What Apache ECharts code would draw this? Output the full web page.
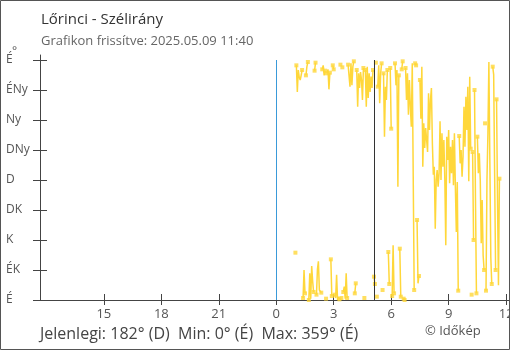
<!DOCTYPE html>
<html><head><meta charset="utf-8">
<script src="https://cdn.jsdelivr.net/npm/echarts@6/dist/echarts.min.js"></script>
<style>html,body{margin:0;padding:0;background:#fff}#c{width:510px;height:350px}</style>
</head><body><div id="c"></div>
<script>
const titleText = 'Lőrinci - Szélirány';
const subtitleText = 'Grafikon frissítve: 2025.05.09 11:40';
const footerText = 'Jelenlegi: 182° (D)  Min: 0° (É)  Max: 359° (É)';
const creditText = '© Időkép';
const unitText = '°';
const dirLabels = ['É','ÉK','K','DK','D','DNy','Ny','ÉNy','É'];
const dirTicks = [0,45,90,135,180,225,270,315,360];
const hourTicks = [-9,-6,-3,0,3,6,9,12];      // hours relative to 2025.05.09 00:00
const axisStartHour = -12 - 20/60;            // 11:40 previous day
const axisEndHour = 12.15;
const midnightHour = 0;
const sunriseHour = 5 + 7/60;
const sampleStartHour = 1;                    // first sample 01:00
const sampleStepMin = 3;

// wind direction (degrees), one array per hour
const dir01 = [71,352,312,345,334,330,337,345,3,45,10,337,350,357,0,40,2,51,28,12];
const dir02 = [344,356,8,46,58,15,17,11,346,352,337,344,2,340,346,316,341,61,6,352];
const dir03 = [346,8,3,38,0,5,1,353,3,349,12,20,2,40,3,353,356,320,355,322];
const dir04 = [350,358,10,25,345,290,340,318,342,330,300,348,3,345,290,350,303,340,312,335];
const dir05 = [318,345,35,24,356,5,320,352,295,340,355,15,340,245,320,300,345,72,24,348];
const dir06 = [257,6,82,10,355,322,345,170,337,77,5,346,358,2,0,348,300,340,278,330];
const dir07 = [290,260,355,185,15,355,352,120,25,36,330,272,350,200,265,228,258,240,222,310];
const dir08 = [255,300,318,235,188,200,107,180,195,170,190,268,180,250,200,240,180,82,245,210];
const dir09 = [255,175,230,190,240,172,250,170,102,177,14,246,205,225,185,215,290,230,305,255];
const dir10 = [320,178,335,227,8,222,90,315,150,10,245,190,220,180,85,150,67,45,265,14];
const dir11 = [180,250,357,210,64,24,350,338,190,45,301,150,22,182];

const allDirs = [].concat(dir01,dir02,dir03,dir04,dir05,dir06,dir07,dir08,dir09,dir10,dir11);

// build line data; break the line where direction wraps across north
const lineData = [];
const segments = [];
let cur = [];
allDirs.forEach((v, i) => {
  const t = sampleStartHour + i * sampleStepMin / 60;
  if (i > 0 && Math.abs(v - allDirs[i-1]) > 180) {
    lineData.push([t - sampleStepMin / 120, '-']);
    segments.push(cur); cur = [];
  }
  lineData.push([t, v]);
  cur.push([t, v]);
});
segments.push(cur);
const markerData = [];
segments.forEach(s => {
  markerData.push(s[0]);
  if (s.length > 1) markerData.push(s[s.length-1]);
});

const FONT = 'Open Sans';
const AX = '#444';
const YEL = '#ffd73a';
const chart = echarts.init(document.getElementById('c'));
const hourFmt = v => String(((Math.round(v) % 24) + 24) % 24);
chart.setOption({
  animation: false,
  grid: {left: 40, right: 1, top: 55, bottom: 50, containLabel: false, outerBoundsMode: 'none'},
  xAxis: [
    {type:'value', min: axisStartHour, max: axisEndHour, position:'bottom',
     axisLine:{show:true, onZero:false, lineStyle:{color:AX, width:1}},
     axisTick:{show:true, inside:false, length:5, customValues: hourTicks, lineStyle:{color:AX}},
     axisLabel:{customValues: hourTicks, formatter: hourFmt, color:'#555', fontSize:13, fontFamily:FONT, margin:8,
                hideOverlap:false, alignMaxLabel:'center', alignMinLabel:'center'},
     splitLine:{show:false}},
    {type:'value', min: axisStartHour, max: axisEndHour, position:'bottom',
     axisLine:{show:false, onZero:false},
     axisTick:{show:true, inside:true, length:6, customValues: hourTicks, lineStyle:{color:AX}},
     axisLabel:{show:false}, splitLine:{show:false}}
  ],
  yAxis: [
    {type:'value', min:0, max:367.5, position:'left',
     axisLine:{show:true, onZero:false, lineStyle:{color:AX, width:1}},
     axisTick:{show:true, inside:false, length:7, customValues: dirTicks, lineStyle:{color:AX}},
     axisLabel:{customValues: dirTicks, formatter: v => dirLabels[dirTicks.indexOf(Math.round(v))] || '',
                align:'left', margin:34, color:'#555', fontSize:12, fontFamily:FONT},
     splitLine:{show:false}},
    {type:'value', min:0, max:367.5, position:'left',
     axisLine:{show:false, onZero:false},
     axisTick:{show:true, inside:true, length:7, customValues: dirTicks, lineStyle:{color:AX}},
     axisLabel:{show:false}, splitLine:{show:false}}
  ],
  series: [
    {type:'line', xAxisIndex:0, yAxisIndex:0, data: lineData, showSymbol:false, connectNulls:false,
     lineStyle:{color:YEL, width:1.5}, itemStyle:{color:YEL}, z:2,
     markLine:{silent:true, symbol:['none','none'], label:{show:false}, animation:false,
       lineStyle:{type:'solid', width:1},
       data:[
         [{coord:[midnightHour,0], lineStyle:{color:'#3a9ad9', type:'solid', width:1}},{coord:[midnightHour,360]}],
         [{coord:[sunriseHour,0], lineStyle:{color:'#333', type:'solid', width:1}},{coord:[sunriseHour,360]}]
       ]}},
    {type:'scatter', xAxisIndex:0, yAxisIndex:0, data: markerData, symbol:'rect', symbolSize:4,
     itemStyle:{color:YEL}, z:3}
  ],
  graphic: [
    {type:'rect', shape:{x:0.5, y:0.5, width:509, height:349}, style:{fill:'none', stroke:'#555', lineWidth:1}, silent:true},
    {type:'text', x:41, y:20, style:{text:titleText, fill:'#333', font:'15px "Open Sans"', verticalAlign:'middle'}},
    {type:'text', x:41, y:41, style:{text:subtitleText, fill:'#666', font:'13px "Open Sans"', verticalAlign:'middle'}},
    {type:'text', x:12, y:52, style:{text:unitText, fill:'#555', font:'12px "Open Sans"', verticalAlign:'middle'}},
    {type:'text', x:40, y:334, style:{text:footerText, fill:'#444', font:'16px "Open Sans"', verticalAlign:'middle'}},
    {type:'text', x:425, y:331, style:{text:creditText, fill:'#555', font:'13px "Open Sans"', verticalAlign:'middle'}}
  ]
});
</script></body></html>
